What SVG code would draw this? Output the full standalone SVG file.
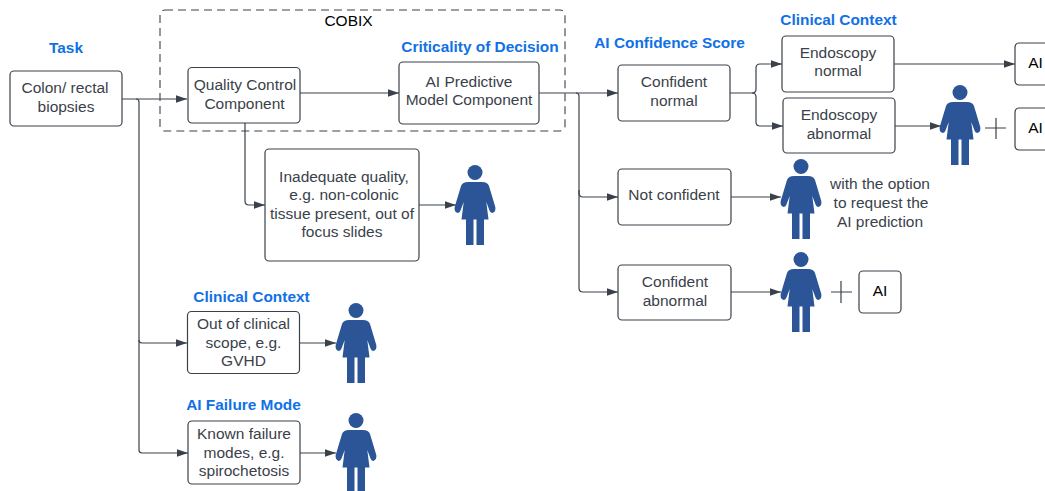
<svg xmlns="http://www.w3.org/2000/svg" xmlns:xlink="http://www.w3.org/1999/xlink" width="1045" height="491" viewBox="0 0 1045 491">
<style>
.box{fill:#fff;stroke:#3a414a;stroke-width:1.2}
.t{font-family:"Liberation Sans",Arial,sans-serif;font-size:15.5px;fill:#3a414a;text-anchor:middle}
.k{fill:#000}
.h{font-family:"Liberation Sans",Arial,sans-serif;font-size:15.4px;font-weight:bold;fill:#1071e5;text-anchor:middle}
.c{fill:none;stroke:#3a414a;stroke-width:1.2}
.p{fill:#2c5597}
</style>
<defs>
<marker id="a" markerUnits="userSpaceOnUse" markerWidth="12" markerHeight="10" refX="11.5" refY="4" orient="auto"><path d="M0,0L11.5,4L0,8Z" fill="#3a414a"/></marker>
<g id="person"><circle class="p" cx="0" cy="7.5" r="7.5"/><path class="p" d="M-7,17H7Q12.500,17 14,21L20.300,42Q21,46.500 18,47.800Q15.500,48.500 14.500,45.500L11.300,37L13.500,54.500H9V80H1.500V54.500H-1.500V80H-9V54.500H-13.500L-11.300,37L-14.500,45.500Q-15.500,48.500 -18,47.800Q-21,46.500 -20.300,42L-14,21Q-12.500,17 -7,17Z"/></g>
</defs>
<rect width="1045" height="491" fill="#fff"/>
<g id="connectors">
<path class="c" d="M122,99H187" marker-end="url(#a)"/>
<path class="c" d="M136,99Q139,99 139,102V340Q139,343 142,343H187" marker-end="url(#a)"/>
<path class="c" d="M139,340V450Q139,453 142,453H188" marker-end="url(#a)"/>
<path class="c" d="M300,93H399" marker-end="url(#a)"/>
<path class="c" d="M245,123V201Q245,205 249,205H265" marker-end="url(#a)"/>
<path class="c" d="M419,205H456" marker-end="url(#a)"/>
<path class="c" d="M539,93H618" marker-end="url(#a)"/>
<path class="c" d="M576,93Q579,93 579,96V193Q579,197 583,197H618" marker-end="url(#a)"/>
<path class="c" d="M579,190V288Q579,292 583,292H618" marker-end="url(#a)"/>
<path class="c" d="M730,93H752Q756,93 756,89V68Q756,64 760,64H782" marker-end="url(#a)"/>
<path class="c" d="M752,93Q756,93 756,97V122Q756,126 760,126H783" marker-end="url(#a)"/>
<path class="c" d="M894,64H1015" marker-end="url(#a)"/>
<path class="c" d="M895,126H941" marker-end="url(#a)"/>
<path class="c" d="M731,197H781" marker-end="url(#a)"/>
<path class="c" d="M731,292H781" marker-end="url(#a)"/>
<path class="c" d="M299,343H336" marker-end="url(#a)"/>
<path class="c" d="M300,453H336" marker-end="url(#a)"/>
</g>
<g id="cobix"><rect x="160" y="10" width="405" height="121" rx="5" fill="none" stroke="#3a414a" stroke-width="1.1" stroke-dasharray="8 5"/><text class="t k" x="348.500" y="26">COBIX</text></g>
<g id="task"><text class="h" x="66" y="53">Task</text><rect class="box" x="10" y="71" width="112" height="55" rx="4"/><text class="t" x="65" y="93">Colon/ rectal</text><text class="t" x="66" y="112">biopsies</text></g>
<g id="quality"><rect class="box" x="188" y="67.500" width="112" height="55.500" rx="4"/><text class="t" x="245" y="90">Quality Control</text><text class="t" x="244.500" y="109">Component</text></g>
<g id="predictive"><text class="h" x="480" y="52">Criticality of Decision</text><rect class="box" x="399" y="62" width="140" height="62" rx="4"/><text class="t" x="469" y="87">AI Predictive</text><text class="t" x="469" y="105">Model Component</text></g>
<g id="confident-normal"><text class="h" x="669.500" y="48">AI Confidence Score</text><rect class="box" x="618" y="65" width="112" height="56" rx="4"/><text class="t" x="674" y="87">Confident</text><text class="t" x="674" y="106">normal</text></g>
<g id="endoscopy-normal"><text class="h" x="838.500" y="25">Clinical Context</text><rect class="box" x="782" y="36" width="112" height="56" rx="4"/><text class="t" x="838" y="58">Endoscopy</text><text class="t" x="838" y="76">normal</text></g>
<g id="endoscopy-abnormal"><rect class="box" x="783" y="98" width="112" height="55" rx="4"/><text class="t" x="839" y="120">Endoscopy</text><text class="t" x="839" y="139">abnormal</text></g>
<g id="ai-1"><rect class="box" x="1015" y="43" width="42" height="42" rx="4"/><text class="t k" x="1035.500" y="68">AI</text></g>
<g id="ai-2"><rect class="box" x="1015" y="108" width="42" height="42" rx="4"/><text class="t k" x="1035.500" y="133">AI</text></g>
<g id="inadequate"><rect class="box" x="265" y="149" width="154" height="112" rx="4"/><text class="t" x="344" y="182">Inadequate quality,</text><text class="t" x="344" y="200">e.g. non-colonic</text><text class="t" x="342" y="219">tissue present, out of</text><text class="t" x="342" y="237">focus slides</text></g>
<g id="not-confident"><rect class="box" x="618" y="169" width="113" height="56" rx="4"/><text class="t" x="674" y="200">Not confident</text></g>
<g id="option-note"><text class="t" x="880" y="189">with the option</text><text class="t" x="881" y="208">to request the</text><text class="t" x="880" y="227">AI prediction</text></g>
<g id="confident-abnormal"><rect class="box" x="618" y="265" width="113" height="55" rx="4"/><text class="t" x="675" y="287">Confident</text><text class="t" x="675" y="306">abnormal</text></g>
<g id="ai-3"><rect class="box" x="859" y="271" width="42" height="42" rx="4"/><text class="t k" x="880" y="296">AI</text></g>
<g id="out-of-scope"><text class="h" x="251.500" y="302">Clinical Context</text><rect class="box" x="187.500" y="311.500" width="112" height="62" rx="4"/><text class="t" x="243.500" y="329">Out of clinical</text><text class="t" x="243.500" y="347.500">scope, e.g.</text><text class="t" x="243.500" y="366">GVHD</text></g>
<g id="known-failure"><text class="h" x="243.500" y="410">AI Failure Mode</text><rect class="box" x="188" y="421" width="112" height="63" rx="4"/><text class="t" x="244" y="439">Known failure</text><text class="t" x="244" y="458">modes, e.g.</text><text class="t" x="244" y="476">spirochetosis</text></g>
<g id="person-1"><use xlink:href="#person" href="#person" x="960" y="85"/></g>
<g id="person-2"><use xlink:href="#person" href="#person" x="475" y="165"/></g>
<g id="person-3"><use xlink:href="#person" href="#person" x="801" y="159"/></g>
<g id="person-4"><use xlink:href="#person" href="#person" x="801" y="252"/></g>
<g id="person-5"><use xlink:href="#person" href="#person" x="356" y="303"/></g>
<g id="person-6"><use xlink:href="#person" href="#person" x="356" y="413"/></g>
<g id="plus-1"><path class="c" d="M985,128H1006M996,118V139"/></g>
<g id="plus-2"><path class="c" d="M831,292H852M841,281V303"/></g>
</svg>
